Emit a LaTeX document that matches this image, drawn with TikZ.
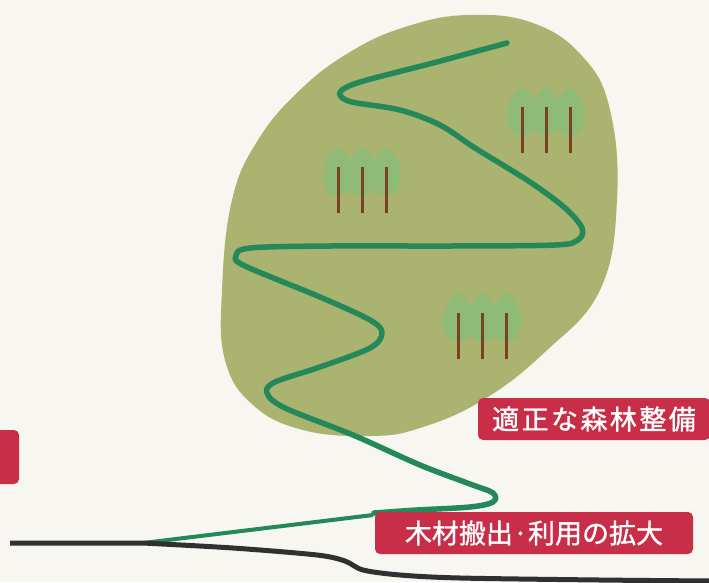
\documentclass[tikz,border=0pt]{standalone}
\usepackage{fontspec}
\newfontfamily\jp{Noto Sans CJK JP}[FakeBold=1.2]
\newfontfamily\jpwide{Noto Sans CJK JP}[LetterSpace=9,FakeBold=1.2]
\definecolor{paper}{RGB}{248,246,240}
\definecolor{hillgreen}{RGB}{170,180,112}
\definecolor{roadgreen}{RGB}{36,136,88}
\definecolor{leafgreen}{RGB}{140,189,120}
\definecolor{trunkbrown}{RGB}{120,66,38}
\definecolor{tagred}{RGB}{200,46,72}
\definecolor{groundblack}{RGB}{48,48,48}
% one crown: top at (#1,#2)
\newcommand\crownat[2]{%
  \fill[crown] (#1,#2) .. controls (#1+8,#2+3) and (#1+15,#2+16) .. (#1+15,#2+28)
    .. controls (#1+15,#2+42) and (#1+8,#2+49) .. (#1,#2+49)
    .. controls (#1-8,#2+49) and (#1-15,#2+42) .. (#1-15,#2+28)
    .. controls (#1-15,#2+16) and (#1-8,#2+3) .. (#1,#2) -- cycle;
}
% three trees side by side, first crown top at (#1,#2)
\newcommand\grove[2]{%
  \crownat{#1}{#2}
  \crownat{#1+24}{#2}
  \crownat{#1+48}{#2}
  \draw[trunk] (#1,#2+20) -- (#1,#2+66);
  \draw[trunk] (#1+24,#2+20) -- (#1+24,#2+66);
  \draw[trunk] (#1+48,#2+20) -- (#1+48,#2+66);
}
\begin{document}
\begin{tikzpicture}[x=1pt,y=-1pt,
  hill/.style={fill=hillgreen},
  road/.style={draw=roadgreen, line width=5.5pt, line cap=round, line join=round},
  lane/.style={draw=roadgreen, line width=4pt},
  ground/.style={draw=groundblack, line width=5pt},
  crown/.style={fill=leafgreen, fill opacity=0.85},
  trunk/.style={draw=trunkbrown, line width=3pt},
  tag/.style={fill=tagred, rounded corners=5pt, text=white, inner sep=0pt}]
\useasboundingbox (0,0) rectangle (709,582);
\clip (0,0) rectangle (709,582);
\fill[paper] (0,0) rectangle (709,582);

% forested hill
\fill[hill] plot[smooth cycle, tension=0.7] coordinates {
  (467,15) (533,23) (583,57) (610,110) (617,200) (600,290) (545,352)
  (483,400) (420,428) (370,436) (303,430) (253,405) (225,360) (222,290)
  (232,200) (258,140) (300,90) (350,52) (405,27)};

% groves
\grove{338}{147}
\grove{522}{87}
\grove{458}{293}

% forest road winding down the hill
\draw[road] plot[smooth, tension=0.55] coordinates {
  (507,43) (470,53) (433,63) (367,80) (345,88) (340,95) (352,102)
  (400,110) (440,125) (475,148) (530,182) (565,208) (582,228) (578,240)
  (555,245) (450,246) (330,246) (250,248) (236,256) (245,266) (320,297)
  (370,320) (382,333) (370,348) (320,367) (275,382) (267,393) (285,408)
  (353,435) (420,465) (470,484) (493,493) (493,502) (470,507) (417,510)
  (374,513)};
\coordinate (roadend) at (373,515);
\coordinate (fork) at (143,543);
\draw[lane] (roadend) -- (fork);

% main road
\coordinate (groundstart) at (10,543);
\draw[ground] (groundstart) -- (fork)
  plot[smooth, tension=0.5] coordinates {(143,543) (233,548) (317,555)
  (345,561) (363,570) (400,575) (460,578) (600,580) (712,581)};

% labels
\node[tag, minimum width=30pt, minimum height=54pt] (side) at (4,457) {};
\node[tag, minimum width=232pt, minimum height=42pt,
  font=\jpwide\fontsize{27}{27}\selectfont] (care) at (594,419) {適正な森林整備};
\node[tag, minimum width=318pt, minimum height=42pt,
  font=\jp\fontsize{27}{27}\selectfont] (use) at (534,533) {木材搬出·利用の拡大};
\end{tikzpicture}
\end{document}
